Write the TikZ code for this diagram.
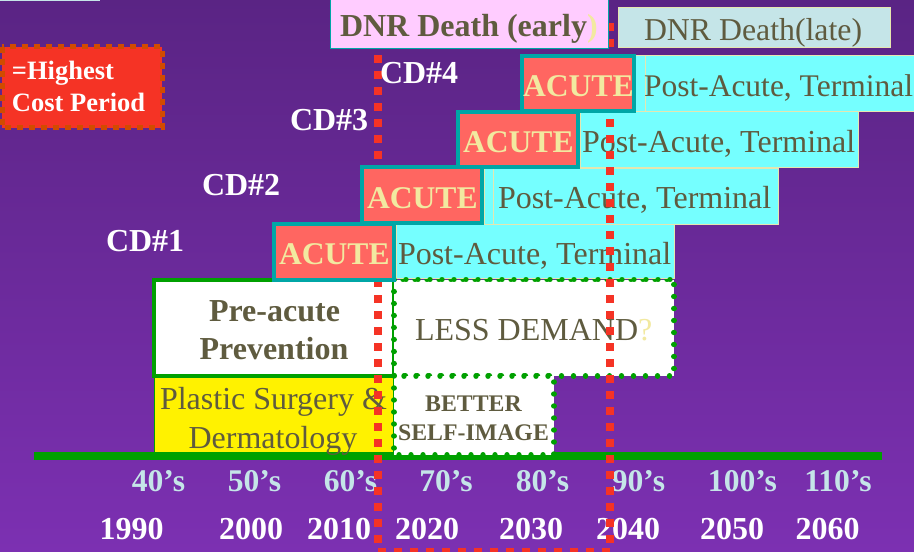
\documentclass[tikz,border=0pt]{standalone}
\usepackage{fontspec}
\setmainfont{Liberation Serif}
\definecolor{bgtop}{HTML}{5A2484}
\definecolor{bgbot}{HTML}{7C30B2}
\definecolor{olivetext}{HTML}{5F5B3F}
\definecolor{paleyellow}{HTML}{F2E9A0}
\definecolor{acutefill}{HTML}{FF6661}
\definecolor{tealedge}{HTML}{00A6A6}
\definecolor{cyanfill}{HTML}{75FFFF}
\definecolor{chartgreen}{HTML}{00A000}
\definecolor{redmark}{HTML}{F53325}
\definecolor{paleblue}{HTML}{C5E5E8}
\definecolor{pinkfill}{HTML}{FFCCFF}
\definecolor{rimcolor}{HTML}{E6E6B0}
\definecolor{burnt}{HTML}{D14B00}
\tikzset{
  txt/.style={inner sep=0pt,outer sep=0pt,anchor=base west},
  ctxt/.style={inner sep=0pt,outer sep=0pt,anchor=base},
  reg/.style={font=\fontsize{32}{32}\selectfont,text=olivetext},
  bld/.style={font=\fontsize{32}{32}\selectfont\bfseries,text=olivetext},
  acutetext/.style={txt,font=\fontsize{31.6}{31.6}\selectfont\bfseries,text=paleyellow},
  cdlabel/.style={txt,font=\fontsize{32}{32}\selectfont\bfseries,text=white},
  decade/.style={ctxt,font=\fontsize{31.6}{31.6}\selectfont\bfseries,text=paleblue},
  yearlabel/.style={ctxt,font=\fontsize{32}{32}\selectfont\bfseries,text=white},
  postbox/.style={fill=cyanfill,draw=rimcolor,line width=0.8pt},
  acutebox/.style={fill=acutefill,draw=tealedge,line width=4pt},
  dotbox/.style={fill=white,draw=chartgreen,line width=5.4pt,line cap=round,dash pattern=on 0.01pt off 11.99pt},
  reddash/.style={draw=redmark,line width=8pt,dash pattern=on 8pt off 8pt}
}
\begin{document}
\begin{tikzpicture}[x=1pt,y=-1pt]
\useasboundingbox (0,0) rectangle (914,552);
\clip (0,0) rectangle (914,552);
\shade[top color=bgtop,bottom color=bgbot] (0,0) rectangle (914,552);
\fill[paleblue] (0,0) rectangle (100,1);

% legend
\path[fill=redmark,draw=burnt,line width=5pt,dash pattern=on 6pt off 6pt] (2,46.5) rectangle (162,127.5);
\node[txt,font=\fontsize{26.5}{26.5}\selectfont\bfseries,text=white] (legendA) at (12,79) {=Highest};
\node[txt,font=\fontsize{26.5}{26.5}\selectfont\bfseries,text=white] (legendB) at (12,111) {Cost Period};

% lower stack
\path[fill=yellow,draw=chartgreen,line width=1.2pt] (154.5,377) rectangle (394,455);
\draw[chartgreen,line width=7.5pt] (34,456) -- (882,456);
\path[fill=white,draw=chartgreen,line width=4pt] (154,280) rectangle (394,375.5);
\path[dotbox] (394,279.5) rectangle (674,376);
\path[dotbox] (394,376) rectangle (554,455);

% post-acute bars
\path[postbox] (396,224) rectangle (674,278);
\path[postbox] (484,168) rectangle (493,224);
\path[postbox] (493,168) rectangle (778,224);
\path[postbox] (580,111) rectangle (858,167.5);
\path[dotbox,fill=none] (394,279.5) -- (674,279.5);

\node[txt,reg] (postA) at (398,264) {Post-Acute, Terminal};
\node[txt,reg] (postB) at (498,208) {Post-Acute, Terminal};
\node[txt,reg] (postC) at (582,152) {Post-Acute, Terminal};
\node[ctxt,bld] (preA) at (274.5,321) {Pre-acute};
\node[ctxt,bld] (preB) at (274,359) {Prevention};
\node[txt,reg] (less) at (415,340) {LESS DEMAND\textcolor{paleyellow}{?}};
\node[ctxt,font=\fontsize{23.8}{23.8}\selectfont\bfseries,text=olivetext] (betterA) at (473.5,411) {BETTER};
\node[ctxt,font=\fontsize{23.8}{23.8}\selectfont\bfseries,text=olivetext] (betterB) at (473.5,440) {SELF-IMAGE};
\node[ctxt,reg] (plasticA) at (273.5,409) {Plastic Surgery \&};
\node[ctxt,reg] (plasticB) at (273,448) {Dermatology};

% decades and years
\foreach \nm/\xx/\tx in {d4/158.5/40’s,d5/254.5/50’s,d6/350.5/60’s,d7/446/70’s,d8/542.5/80’s,d9/638.5/90’s,d10/742.5/100’s,d11/838/110’s}
  \node[decade] (\nm) at (\xx,491) {\tx};
\foreach \nm/\xx/\tx in {y1/131.5/1990,y2/251/2000,y3/339/2010,y4/427/2020,y5/531/2030,y6/628/2040,y7/732/2050,y8/827.5/2060}
  \node[yearlabel] (\nm) at (\xx,539) {\tx};

% highest-cost period dashes
\coordinate (lefttop) at (378,55);
\coordinate (leftbot) at (378,546);
\coordinate (righttop) at (610,23);
\coordinate (rightbot) at (610,546);
\coordinate (botleft) at (378,552);
\coordinate (botright) at (610,552);
\draw[reddash] (lefttop) -- (leftbot);
\draw[reddash] (righttop) -- (rightbot);
\draw[reddash] (botleft) -- (botright);

% acute boxes
\path[acutebox] (274,223.5) rectangle (394,279.5);
\path[acutebox] (362,167) rectangle (482,223);
\path[acutebox] (458,112) rectangle (578,167);

% top bar
\path[postbox] (634,55) rectangle (645.5,111);
\path[postbox] (645.5,55) rectangle (916,111);
\path[acutebox] (522,55.5) rectangle (634,111);

\node[acutetext] (acA) at (279,264) {ACUTE};
\node[acutetext] (acB) at (367,208) {ACUTE};
\node[acutetext] (acC) at (463,152) {ACUTE};
\node[acutetext] (acD) at (523,96) {ACUTE};
\node[txt,font=\fontsize{31.5}{31.5}\selectfont,text=olivetext] (postD) at (644,96) {Post-Acute, Terminal};

% DNR boxes
\path[fill=pinkfill,draw=tealedge,line width=1pt] (330.5,-2) rectangle (608,48);
\path[fill=paleblue,draw=rimcolor,line width=0.8pt] (618,7.5) rectangle (890,47.5);
\node[txt,font=\fontsize{32}{32}\selectfont\bfseries,text=olivetext] (dnrA) at (340,36) {DNR Death (early\textcolor{paleyellow}{)}};
\node[txt,font=\fontsize{31.8}{31.8}\selectfont,text=olivetext] (dnrB) at (644,40) {DNR Death(late)};

% chronic disease labels
\node[cdlabel] (cdD) at (380,83) {CD\#4};
\node[cdlabel] (cdC) at (290,130) {CD\#3};
\node[cdlabel] (cdB) at (202,195) {CD\#2};
\node[cdlabel] (cdA) at (106,251) {CD\#1};
\end{tikzpicture}
\end{document}
